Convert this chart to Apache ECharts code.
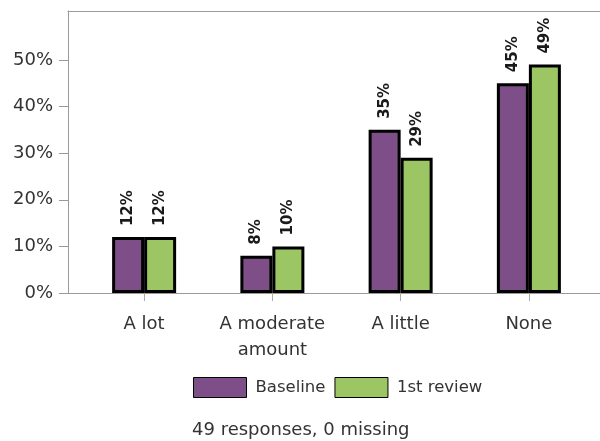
<!DOCTYPE html>
<html><head><meta charset="utf-8">
<script src="https://cdn.jsdelivr.net/npm/echarts@6/dist/echarts.min.js"></script>
<style>html,body{margin:0;padding:0;background:#fff}#c{width:600px;height:441px}</style>
</head><body><div id="c"></div>
<script>
const categories = ['A lot', 'A moderate\namount', 'A little', 'None'];
const baseline = [12, 8, 35, 45];
const review1 = [12, 10, 29, 49];
const yTicks = [0, 10, 20, 30, 40, 50];
const seriesNames = ['Baseline', '1st review'];
const footnote = '49 responses, 0 missing';

const FONT = 'DejaVu Sans';
const chart = echarts.init(document.getElementById('c'));
const gTop = 11, gBottom = 148;
const frameLine = {show: true, onZero: false, lineStyle: {color: '#9a9a9a', width: 1}};
const lbl = {
  show: true, position: 'top', rotate: 90, align: 'left', verticalAlign: 'middle',
  distance: 11, fontFamily: FONT, fontWeight: 'bold', fontSize: 15, color: '#1a1a1a',
  formatter: p => p.value + '%'
};
chart.setOption({
  animation: false,
  grid: [
    {left: 68, right: 0, top: gTop, bottom: gBottom},
    {left: 80, right: 7, top: gTop, bottom: gBottom}
  ],
  xAxis: [
    {gridIndex: 0, type: 'value', position: 'top', min: 0, max: 1, axisLine: frameLine,
     axisTick: {show: false}, axisLabel: {show: false}, splitLine: {show: false}},
    {gridIndex: 0, type: 'value', position: 'bottom', min: 0, max: 1, axisLine: frameLine,
     axisTick: {show: false}, axisLabel: {show: false}, splitLine: {show: false}},
    {gridIndex: 1, type: 'category', data: categories,
     axisLine: {show: false},
     axisTick: {show: true, alignWithLabel: true, length: 8, lineStyle: {color: '#aaa'}},
     axisLabel: {interval: 0, fontFamily: FONT, fontSize: 18, color: '#333', margin: 18, lineHeight: 26}}
  ],
  yAxis: [
    {gridIndex: 0, type: 'value', show: false, min: 0, max: 1},
    {gridIndex: 1, type: 'value', min: 0, max: 60.5, interval: 10, offset: 12,
     axisLine: {show: true, lineStyle: {color: '#9a9a9a'}},
     axisTick: {show: true, length: 9, customValues: yTicks, lineStyle: {color: '#9a9a9a'}},
     splitLine: {show: false},
     axisLabel: {fontFamily: FONT, fontSize: 18, color: '#333', margin: 15, customValues: yTicks,
       formatter: v => (yTicks.indexOf(v) >= 0 ? v + '%' : '')}}
  ],
  legend: {
    left: 193, top: 377, padding: 0, itemWidth: 53, itemHeight: 20, itemGap: 9, icon: 'rect',
    data: seriesNames,
    textStyle: {fontFamily: FONT, fontSize: 16.5, color: '#333', padding: [0, 0, 0, 4]},
    itemStyle: {borderColor: '#000', borderWidth: 1}
  },
  graphic: [{type: 'text', left: 192, top: 421,
    style: {text: footnote, font: '18px "' + FONT + '"', fill: '#333'}}],
  series: [
    {name: seriesNames[0], type: 'bar', xAxisIndex: 2, yAxisIndex: 1, data: baseline,
     barWidth: 32, barGap: '0%',
     itemStyle: {color: '#7e4e88', borderColor: '#000', borderWidth: 3}, label: lbl},
    {name: seriesNames[1], type: 'bar', xAxisIndex: 2, yAxisIndex: 1, data: review1,
     barWidth: 32, barGap: '0%',
     itemStyle: {color: '#9cc664', borderColor: '#000', borderWidth: 3}, label: lbl}
  ]
});
</script></body></html>
